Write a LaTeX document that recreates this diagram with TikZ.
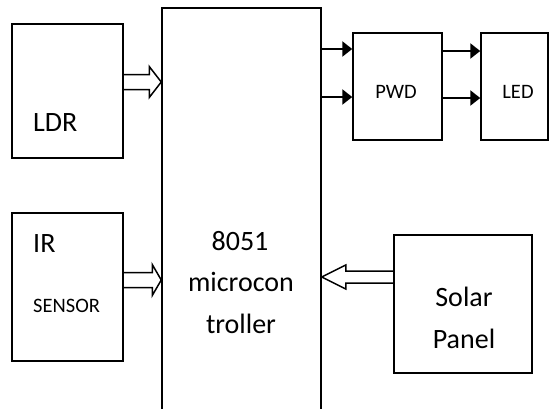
\documentclass[tikz,border=0pt]{standalone}
\usepackage{fontspec}
\setmainfont{Carlito}
\usetikzlibrary{arrows.meta,calc}

\tikzset{
  box/.style={draw, line width=1.5pt, inner sep=0pt},
  big/.style={inner sep=0pt, font=\fontsize{28}{34}\selectfont},
  small/.style={inner sep=0pt, font=\fontsize{20.5}{24}\selectfont},
  flow/.style={line width=2.4pt, -{Triangle[length=10pt,width=15pt]}},
  hollow/.style={line width=1.5pt, line join=miter}
}

% hollow block arrow: start, tip, half shaft, half head, head length
\newcommand\fatarrow[5]{%
  \draw[hollow] let \p1=#1, \p2=#2 in
    (\x1,{\y1+#3}) -- ({\x2-(#5)},{\y1+#3}) -- ({\x2-(#5)},{\y1+#4}) -- (\x2,\y1)
    -- ({\x2-(#5)},{\y1-#4}) -- ({\x2-(#5)},{\y1-#3}) -- (\x1,{\y1-#3});}

\begin{document}
\begin{tikzpicture}[x=1pt, y=-1pt]
      \useasboundingbox (0,0) rectangle (556,408);
      \clip (0,0) rectangle (556,408);
      % blocks
      \node[box, minimum width=111pt, minimum height=134pt] (ldr) at (67.5, 91) {};
      \node[box, minimum width=111pt, minimum height=148pt] (ir) at (67.5, 287) {};
      \node[box, minimum width=159pt, minimum height=422pt] (mcu) at (241.5, 219) {};
      \node[box, minimum width=89pt, minimum height=107pt] (pwd) at (397.5, 86.5) {};
      \node[box, minimum width=67pt, minimum height=107pt] (led) at (514.5, 86.5) {};
      \node[box, minimum width=138pt, minimum height=138pt] (solar) at (463, 304) {};
      % labels
      \node[big, anchor=base west] (tldr) at (33, 131) {LDR};
      \node[big, anchor=base west] (tir) at (33, 252) {IR};
      \node[small, anchor=base west] (tsens) at (33, 312) {SENSOR};
      \node[big, anchor=base] (tmcua) at (240, 250) {8051};
      \node[big, anchor=base] (tmcub) at (241, 291) {microcon};
      \node[big, anchor=base] (tmcuc) at (241, 333) {troller};
      \node[small, anchor=base] (tpwd) at (396, 98) {PWD};
      \node[small, anchor=base] (tled) at (518, 98) {LED};
      \node[big, anchor=base] (tsola) at (464, 306) {Solar};
      \node[big, anchor=base] (tsolb) at (464, 348) {Panel};
      % block arrows
      \fatarrow{([yshift=9pt]ldr.east)}{(mcu.west)}{7.5}{15.5}{12}
      \fatarrow{([yshift=7pt]ir.east)}{(mcu.west)}{7.5}{15.5}{9}
      \fatarrow{([yshift=27pt]solar.west)}{(mcu.east)}{6}{12}{-24}
      % signal arrows
      \coordinate (pa) at ([yshift=37.5pt]pwd.west);
      \coordinate (pb) at ([yshift=-10.5pt]pwd.west);
      \draw[flow] (pa -| mcu.east) -- (pa);
      \draw[flow] (pb -| mcu.east) -- (pb);
      \draw[flow] ([yshift=35.5pt]pwd.east) -- ([yshift=35.5pt]led.west);
      \draw[flow] ([yshift=-11.5pt]pwd.east) -- ([yshift=-11.5pt]led.west);
\end{tikzpicture}
\end{document}
